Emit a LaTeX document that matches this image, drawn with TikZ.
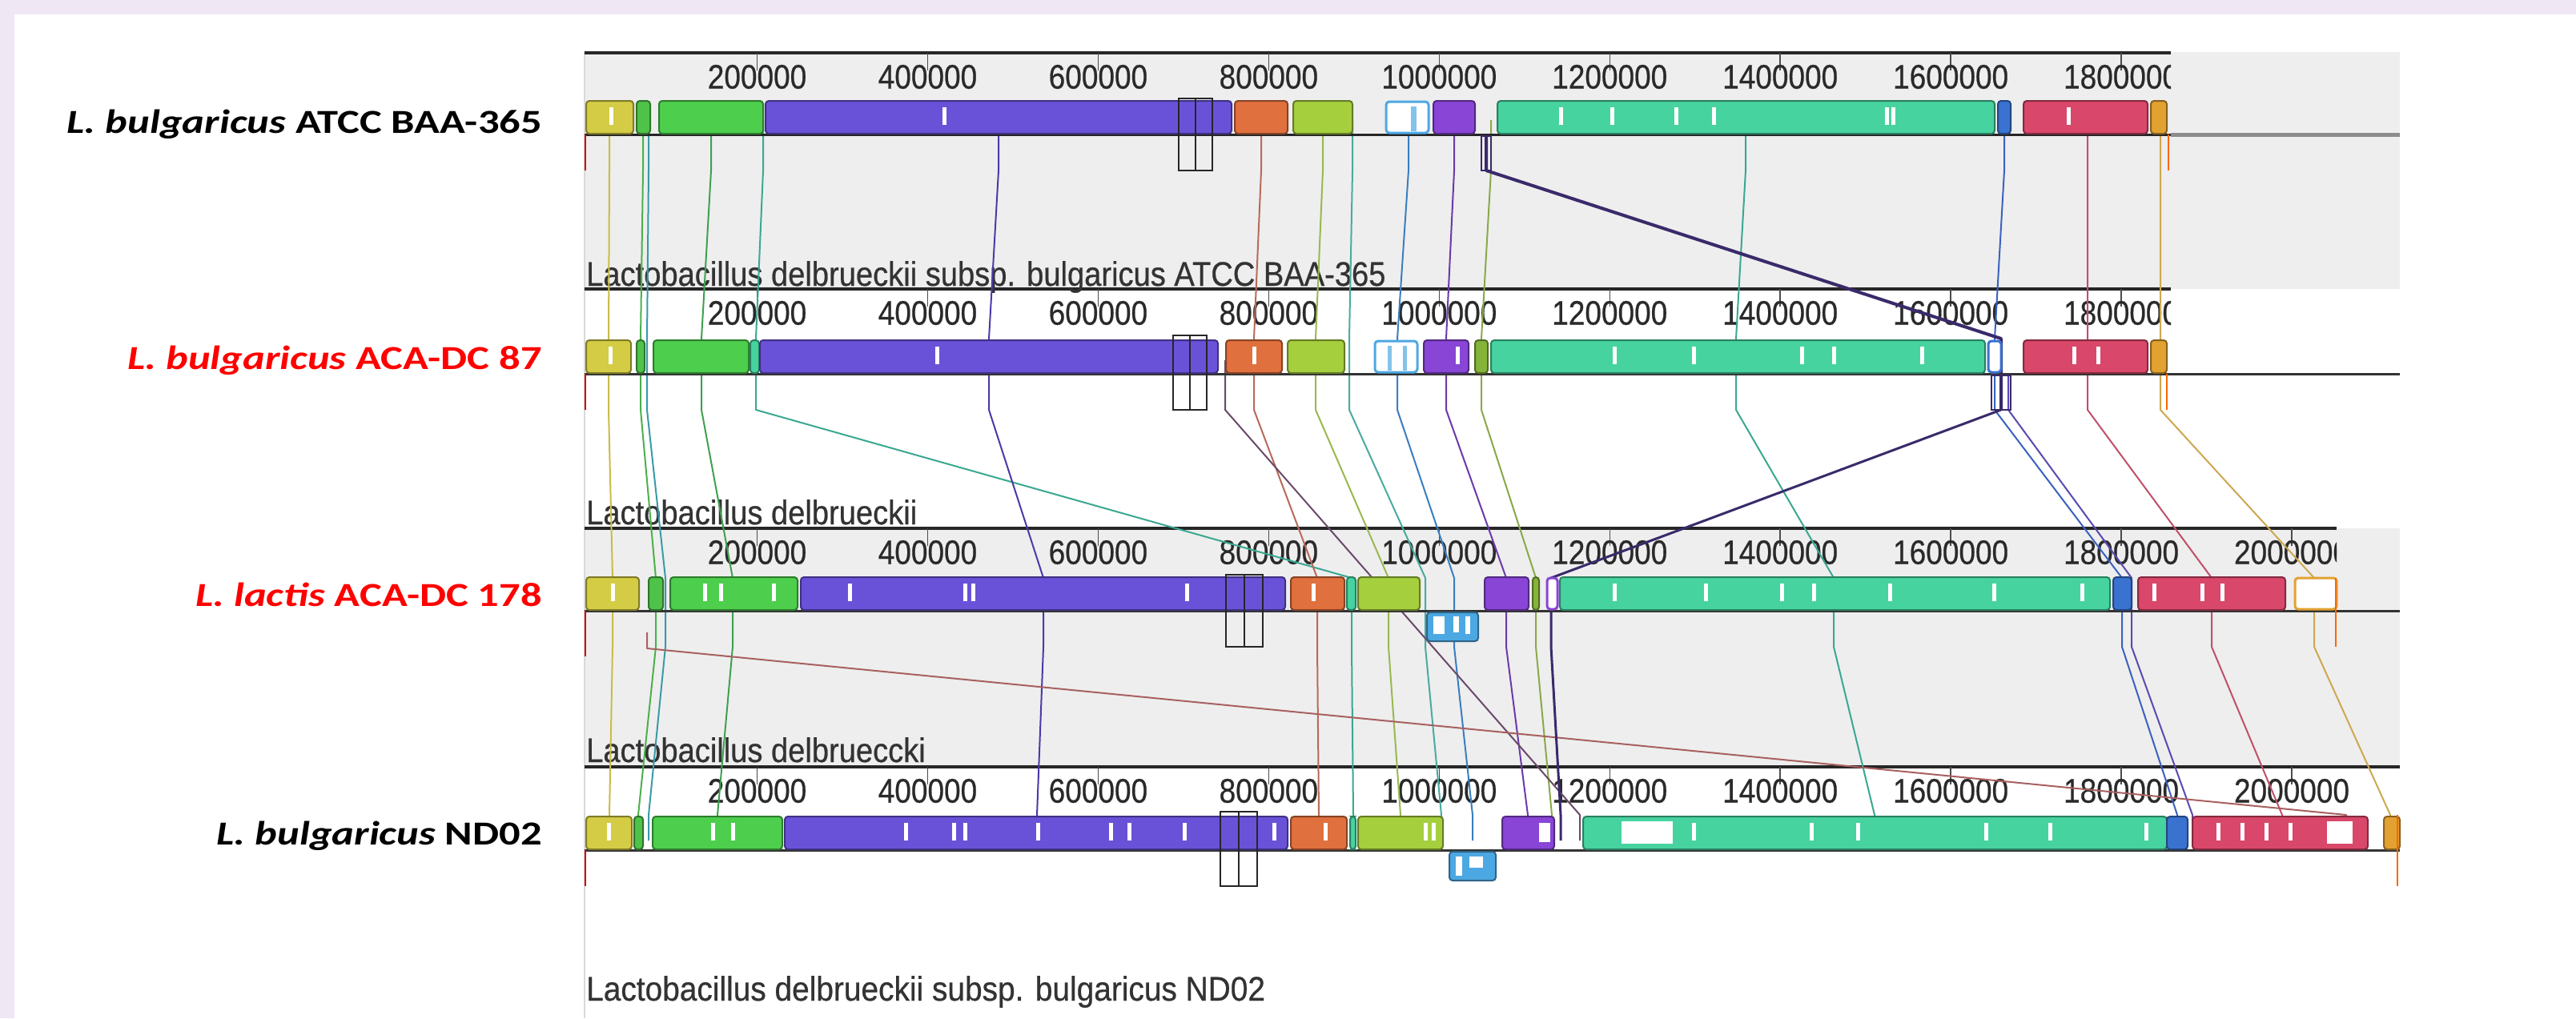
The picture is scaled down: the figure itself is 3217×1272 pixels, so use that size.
\documentclass[tikz,border=0pt]{standalone}
\usepackage{graphicx}
\usepackage{fontspec}
\setmainfont{Liberation Sans}
\newfontfamily\calib{Carlito}
\newfontfamily\mauvefont[FakeBold=0.6]{Liberation Sans}
\definecolor{lav}{HTML}{EFE7F4}
\definecolor{pg}{HTML}{EEEEEE}
\definecolor{tick}{HTML}{2A2A2A}
\definecolor{gname}{HTML}{333333}
\definecolor{cY}{HTML}{D4CC44}
\definecolor{cG2}{HTML}{4FC24A}
\definecolor{cG}{HTML}{4DCF4D}
\definecolor{cP}{HTML}{6A52D8}
\definecolor{cO}{HTML}{E0703E}
\definecolor{cYG}{HTML}{A6CF3E}
\definecolor{cLB}{HTML}{4CA8E2}
\definecolor{cPU}{HTML}{8845D6}
\definecolor{cG3}{HTML}{86B43A}
\definecolor{cTE}{HTML}{46D3A0}
\definecolor{cBL}{HTML}{3A72D0}
\definecolor{cRD}{HTML}{D9476A}
\definecolor{cOR}{HTML}{E2A232}
\definecolor{cDP}{HTML}{3A2A6A}
\definecolor{lY}{HTML}{C9BC4A}
\definecolor{lG2}{HTML}{4CB04C}
\definecolor{lTEa}{HTML}{3A9AA8}
\definecolor{lG}{HTML}{3FA050}
\definecolor{lP}{HTML}{4A3AA8}
\definecolor{lX}{HTML}{6A4A6A}
\definecolor{lO}{HTML}{B86A5A}
\definecolor{lYG}{HTML}{9AB850}
\definecolor{lTE2}{HTML}{4AAAA0}
\definecolor{lLB}{HTML}{3A7EC0}
\definecolor{lPU}{HTML}{6A3AAA}
\definecolor{lG3}{HTML}{8AA84A}
\definecolor{lTE}{HTML}{3AA890}
\definecolor{lBL}{HTML}{3A62C0}
\definecolor{lBL2}{HTML}{5A4AB0}
\definecolor{lRD}{HTML}{C0506A}
\definecolor{lOR}{HTML}{CDA850}
\definecolor{lRB}{HTML}{A86060}
\definecolor{redlab}{HTML}{FF0000}
\tikzset{
  blk/.style={fill=#1, draw=#1!60!black, line width=2pt, rounded corners=4pt},
  oblk/.style={fill=white, draw=#1, line width=3pt, rounded corners=4pt},
  lcbl/.style={draw=#1, line width=2pt, line join=round},
  dpl/.style={draw=cDP, line width=4pt, line join=round},
  endmark/.style={draw=#1, line width=2.5pt},
  pairbox/.style={draw=black!85, line width=2.2pt},
  ticklab/.style={font=\mauvefont\fontsize{37}{40}\selectfont, text=tick, inner sep=0pt},
  gnm/.style={font=\mauvefont\fontsize{37}{40}\selectfont, text=gname, anchor=base west, inner sep=0pt},
  slab/.style={font=\calib\bfseries\fontsize{42}{48}\selectfont, anchor=base east, inner sep=0pt},
}
\newcommand\fb[4]{\draw[blk=#1] (#2,#4-42) rectangle (#3,#4-1);}
\newcommand\ob[4]{\draw[oblk=#1] (#2,#4-41) rectangle (#3,#4-2);}
\newcommand\rb[4]{\draw[blk=#1] (#2,#4+2) rectangle (#3,#4+38);}
\newcommand\wm[2]{\fill[white] (#1-2.5,#2-34) rectangle (#1+2.5,#2-12);}
\newcommand\lcb[5]{\draw[lcbl=#1] (#2,150)--(#2,213)--(#3,423)--(#3,512)--(#4,722)--(#4,808)--(#5,1018)--(#5,1050);}
\newcommand\ruler[4]{%
  \begin{scope}
    \clip (729,#1-6) rectangle (#2,#1+60);
    \draw[line width=3.5pt, draw=black!85] (730,#1) -- (#2,#1);
    \foreach \k/\lab in {#3} {
      \draw[line width=1.5pt, draw=black!70] ({732.6+\k*212.94},#1) -- ({732.6+\k*212.94},#1+22);
      \node[ticklab] (#4\k) at ({732.6+\k*212.94},#1+30) {\scalebox{1}[1.15]{\lab}};
    }
  \end{scope}}
\begin{document}
\begin{tikzpicture}[x=1pt,y=-1pt]
\useasboundingbox (0,0) rectangle (3217,1272);
\fill[lav] (0,0) rectangle (3217,1272);
\fill[white] (18,18) rectangle (3217,1272);
% panels
\fill[pg] (730,65) rectangle (2997,361);
\fill[pg] (730,660) rectangle (2997,958);
\draw[black!15, line width=1.5pt] (730,65) -- (730,1272);
% rulers
\ruler{66}{2711}{1/200000,2/400000,3/600000,4/800000,5/1000000,6/1200000,7/1400000,8/1600000,9/1800000}{ra}
\ruler{361}{2711}{1/200000,2/400000,3/600000,4/800000,5/1000000,6/1200000,7/1400000,8/1600000,9/1800000}{rb}
\ruler{660}{2918}{1/200000,2/400000,3/600000,4/800000,5/1000000,6/1200000,7/1400000,8/1600000,9/1800000,10/2000000}{rc}
\ruler{958}{2997}{1/200000,2/400000,3/600000,4/800000,5/1000000,6/1200000,7/1400000,8/1600000,9/1800000,10/2000000}{rd}
% genome names
\node[gnm] (n1) at (732,357) {\scalebox{1.03}[1.15]{Lactobacillus delbrueckii subsp. bulgaricus ATCC BAA-365}};
\node[gnm] (n2) at (732,655) {\scalebox{1.03}[1.15]{Lactobacillus delbrueckii}};
\node[gnm] (n3) at (732,952) {\scalebox{1.03}[1.15]{Lactobacillus delbrueccki}};
\node[gnm] (n4) at (732,1250) {\scalebox{1.05}[1.15]{Lactobacillus delbrueckii subsp. bulgaricus ND02}};
% LCB connecting lines
\lcb{lY}{761}{760}{765}{761}
\lcb{lG2}{803}{800}{819}{797}
\lcb{lTEa}{810}{808}{831}{810}
\lcb{lG}{888}{876}{915}{896}
\lcb{lTE}{953}{944}{1688}{1690}
\lcb{lP}{1247}{1235}{1303}{1295}
\lcb{lO}{1575}{1566}{1645}{1647}
\lcb{lYG}{1652}{1643}{1734}{1749}
\lcb{lTE2}{1689}{1685}{1780}{1800}
\lcb{lLB}{1759}{1745}{1816}{1839}
\lcb{lPU}{1816}{1806}{1881}{1908}
\lcb{lG3}{1862}{1850}{1918}{1938}
\lcb{lTE}{2180}{2168}{2290}{2341}
\lcb{lBL}{2503}{2491}{2650}{2719}
\lcb{lRD}{2607}{2607}{2762}{2850}
\lcb{lOR}{2698}{2698}{2890}{2985}
\draw[lcbl=lX] (1530,450)--(1530,512)--(1973,1018)--(1973,1050);
\draw[lcbl=lBL2] (2508,470)--(2508,512)--(2662,722)--(2662,808)--(2738,1018)--(2738,1050);
\draw[lcbl=lRB] (808,790)--(808,810)--(2930,1018)--(2930,1050);
\draw[dpl] (1856,170)--(1856,213)--(2499,423)--(2499,512);
\draw[lcbl=cDP, line width=3pt] (2499,512)--(1937,722)--(1937,808)--(1949,1018)--(1949,1050);
% center lines
\draw[line width=3pt, black!85] (730,168) -- (2711,168);
\draw[line width=5pt, black!45] (2711,168) -- (2997,168);
\draw[line width=3pt, black!80] (730,467) -- (2997,467);
\draw[line width=3pt, black!80] (730,763) -- (2997,763);
\draw[line width=3pt, black!80] (730,1062) -- (2997,1062);
% track 1 blocks
\fb{cY}{732}{791}{168} \fb{cG2}{795}{812}{168} \fb{cG}{823}{953}{168}
\fb{cP}{956}{1538}{168} \fb{cO}{1542}{1608}{168} \fb{cYG}{1615}{1689}{168}
\ob{cLB}{1731}{1784}{168} \fill[cLB!70] (1762,133) rectangle (1769,164);
\fb{cPU}{1790}{1842}{168} \fb{cTE}{1870}{2491}{168} \fb{cBL}{2495}{2511}{168}
\fb{cRD}{2527}{2682}{168} \fb{cOR}{2686}{2706}{168}
\foreach \x in {763,1179,1949,2013,2093,2140,2356,2364,2583} {\wm{\x}{168}}
\draw[draw=cDP, line width=2.5pt] (1850,170) rectangle (1862,213);
% track 2 blocks
\fb{cY}{732}{788}{467} \fb{cG2}{795}{805}{467} \fb{cG}{816}{935}{467}
\fb{cTE}{937}{948}{467}
\fb{cP}{949}{1521}{467} \fb{cO}{1531}{1601}{467} \fb{cYG}{1608}{1679}{467}
\ob{cLB}{1717}{1770}{467} \fill[cLB!70] (1733,432) rectangle (1738,463); \fill[cLB!70] (1752,432) rectangle (1757,463);
\fb{cPU}{1778}{1834}{467} \fb{cG3}{1842}{1858}{467} \fb{cTE}{1862}{2479}{467}
\ob{cBL}{2483}{2499}{467} \fb{cRD}{2527}{2682}{467} \fb{cOR}{2686}{2706}{467}
\foreach \x in {762,1170,1566,1820,2016,2115,2250,2290,2400,2590,2620} {\wm{\x}{467}}
\draw[draw=cDP, line width=2.5pt] (2487,469) rectangle (2511,512);
% track 3 blocks
\fb{cY}{732}{798}{763} \fb{cG2}{810}{828}{763} \fb{cG}{837}{996}{763}
\fb{cP}{1000}{1605}{763} \fb{cO}{1612}{1679}{763} \fb{cTE}{1682}{1693}{763}
\fb{cYG}{1696}{1773}{763} \rb{cLB}{1782}{1846}{763}
\fill[white] (1790,770) rectangle (1804,792); \fill[white] (1815,770) rectangle (1822,790); \fill[white] (1830,770) rectangle (1836,792);
\fb{cPU}{1854}{1909}{763} \fb{cG3}{1914}{1922}{763} \ob{cPU}{1932}{1945}{763}
\fb{cTE}{1948}{2635}{763} \fb{cBL}{2639}{2662}{763} \fb{cRD}{2670}{2854}{763}
\ob{cOR}{2866}{2918}{763}
\foreach \x in {765,880,900,966,1061,1205,1215,1482,1640,2016,2130,2225,2265,2360,2490,2600,2690,2750,2775} {\wm{\x}{763}}
% track 4 blocks
\fb{cY}{732}{789}{1062} \fb{cG2}{792}{803}{1062} \fb{cG}{815}{977}{1062}
\fb{cP}{980}{1608}{1062} \fb{cO}{1612}{1682}{1062} \fb{cTE}{1686}{1693}{1062}
\fb{cYG}{1696}{1802}{1062} \rb{cLB}{1810}{1868}{1062}
\fill[white] (1818,1070) rectangle (1826,1094); \fill[white] (1835,1070) rectangle (1852,1084);
\fb{cPU}{1876}{1941}{1062} \fill[white] (1922,1028) rectangle (1936,1052);
\fb{cTE}{1977}{2706}{1062} \fill[white] (2025,1026) rectangle (2089,1054);
\fb{cBL}{2706}{2732}{1062} \fb{cRD}{2738}{2957}{1062} \fill[white] (2906,1026) rectangle (2938,1054);
\fb{cOR}{2977}{2997}{1062}
\foreach \x in {760,890,915,1131,1191,1205,1296,1387,1410,1479,1591,1655,1780,1790,2115,2262,2320,2480,2560,2680,2770,2800,2830,2860} {\wm{\x}{1062}}
% pair boxes
\draw[pairbox] (1472,123) rectangle (1493,213) (1493,123) rectangle (1514,213);
\draw[pairbox] (1465,419) rectangle (1486,512) (1486,419) rectangle (1507,512);
\draw[pairbox] (1531,718) rectangle (1554,808) (1554,718) rectangle (1577,808);
\draw[pairbox] (1524,1014) rectangle (1547,1107) (1547,1014) rectangle (1570,1107);
% end markers
\draw[endmark=red!80!black] (731,168)--(731,213) (731,467)--(731,512) (731,763)--(731,820) (731,1062)--(731,1107);
\draw[endmark=orange!80!red] (2708,168)--(2708,213) (2706,467)--(2706,512) (2917,722)--(2917,808) (2994,1018)--(2994,1107);
% species labels
\node[slab, text=black] (s1) at (677,166) {\scalebox{1.25}[1]{\textit{L. bulgaricus} ATCC BAA-365}};
\node[slab, text=redlab] (s2) at (677,461) {\scalebox{1.25}[1]{\textit{L. bulgaricus} ACA-DC 87}};
\node[slab, text=redlab] (s3) at (677,757) {\scalebox{1.25}[1]{\textit{L. lactis} ACA-DC 178}};
\node[slab, text=black] (s4) at (677,1055) {\scalebox{1.25}[1]{\textit{L. bulgaricus} ND02}};
\end{tikzpicture}
\end{document}
